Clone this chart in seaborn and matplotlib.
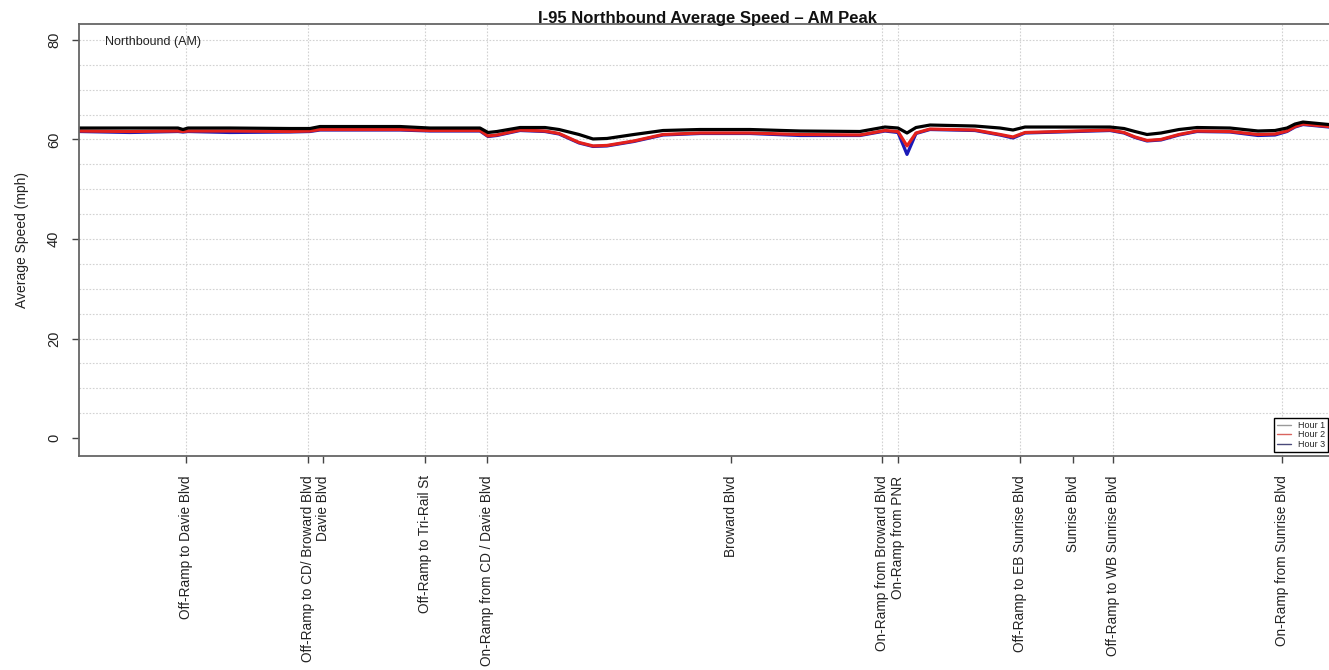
import numpy as np
import pandas as pd
import matplotlib
matplotlib.use("Agg")
import matplotlib.pyplot as plt
import seaborn as sns
from matplotlib.lines import Line2D

# ---------------- data ----------------
distance_mi = [0.00, 0.51, 0.99, 1.04, 1.09, 1.51, 2.11, 2.31, 2.41, 3.21, 3.51, 4.01,
               4.09, 4.18, 4.41, 4.66, 4.80, 5.00, 5.14, 5.28, 5.55, 5.84, 6.21, 6.71,
               7.21, 7.81, 8.06, 8.19, 8.28, 8.37, 8.51, 8.96, 9.21, 9.34, 9.46, 10.31,
               10.45, 10.56, 10.68, 10.82, 11.00, 11.18, 11.51, 11.79, 11.96, 12.08,
               12.16, 12.24, 12.50]

hour1 = [62.3, 62.3, 62.3, 62.0, 62.3, 62.3, 62.2, 62.2, 62.6, 62.6, 62.3, 62.3,
         61.4, 61.6, 62.4, 62.4, 62.0, 61.0, 60.1, 60.2, 61.0, 61.8, 62.0, 62.0,
         61.7, 61.6, 62.5, 62.3, 61.3, 62.4, 62.9, 62.7, 62.3, 61.9, 62.5, 62.5,
         62.2, 61.6, 61.0, 61.3, 62.0, 62.4, 62.3, 61.7, 61.8, 62.3,
         63.1, 63.5, 63.0]

hour2 = [61.7, 61.6, 61.7, 61.6, 61.7, 61.7, 61.6, 61.7, 62.0, 62.0, 61.8, 61.8,
         60.7, 60.9, 61.9, 61.7, 61.2, 59.4, 58.7, 58.8, 59.7, 61.0, 61.3, 61.3,
         61.0, 60.9, 61.8, 61.6, 58.7, 61.3, 62.1, 61.9, 61.0, 60.5, 61.4, 61.9,
         61.4, 60.5, 59.8, 60.0, 61.0, 61.7, 61.6, 61.0, 61.1, 61.7,
         62.6, 63.1, 62.6]

hour3 = [61.6, 61.4, 61.6, 61.5, 61.6, 61.4, 61.5, 61.6, 61.9, 61.9, 61.7, 61.7,
         60.6, 60.8, 61.8, 61.6, 61.1, 59.3, 58.6, 58.7, 59.6, 60.9, 61.2, 61.2,
         60.8, 60.8, 61.7, 61.4, 57.0, 61.2, 62.0, 61.8, 60.9, 60.3, 61.3, 61.8,
         61.3, 60.4, 59.7, 59.9, 60.9, 61.6, 61.5, 60.8, 60.9, 61.6,
         62.5, 63.0, 62.5]

location_pos = [1.07, 2.29, 2.44, 3.46, 4.08, 6.52, 8.03, 8.19, 9.41, 9.94, 10.34, 12.03]
location_labels = ["Off-Ramp to Davie Blvd", "Off-Ramp to CD/ Broward Blvd", "Davie Blvd",
                   "Off-Ramp to Tri-Rail St", "On-Ramp from CD / Davie Blvd", "Broward Blvd",
                   "On-Ramp from Broward Blvd", "On-Ramp from PNR", "Off-Ramp to EB Sunrise Blvd",
                   "Sunrise Blvd", "Off-Ramp to WB Sunrise Blvd", "On-Ramp from Sunrise Blvd"]
is_ramp = [True, True, False, True, True, False, True, True, True, False, True, True]

y_ticks = [0, 20, 40, 60, 80]
series_names = ["Hour 1", "Hour 2", "Hour 3"]

# ---------------- styling ----------------
sns.set_theme(style="white")
plt.rcParams["font.family"] = ["Liberation Sans", "DejaVu Sans"]

plot_colors = {"Hour 1": "#000000", "Hour 2": "#e3211c", "Hour 3": "#1a1ab8"}
legend_colors = {"Hour 1": "#9a9a9a", "Hour 2": "#d9645f", "Hour 3": "#4a4a7a"}

W, H = 1329, 670
fig = plt.figure(figsize=(W / 100, H / 100), dpi=100)
ax = fig.add_axes([79 / W, (H - 456) / H, (1335 - 79) / W, (456 - 24) / H])

df = pd.DataFrame({
    "distance": distance_mi * 3,
    "speed": hour1 + hour2 + hour3,
    "series": ["Hour 1"] * len(hour1) + ["Hour 2"] * len(hour2) + ["Hour 3"] * len(hour3),
})

# draw Hour 3 first, Hour 1 on top
sns.lineplot(data=df, x="distance", y="speed", hue="series",
             hue_order=["Hour 3", "Hour 2", "Hour 1"], palette=plot_colors,
             estimator=None, sort=False, linewidth=2.3, legend=False, ax=ax)

ax.set_xlim(0, 12.56)
ax.set_ylim(-3.6, 83.2)

# grid
for yv in np.arange(5, 81, 5):
    ax.axhline(yv, color="#d2d2d2", linestyle=(0, (1.5, 1.5)), linewidth=0.8, zorder=0)
for xv, ramp in zip(location_pos, is_ramp):
    if ramp:
        ax.axvline(xv, color="#d2d2d2", linestyle=(0, (1.5, 1.5)), linewidth=0.8, zorder=0)

ax.set_yticks(y_ticks)
ax.set_yticklabels([str(v) for v in y_ticks], rotation=90, va="center")
ax.set_xticks(location_pos)
ax.set_xticklabels(location_labels, rotation=90, ha="center", va="top")

ax.tick_params(axis="both", which="major", direction="out", length=5, width=1,
               color="#444444", labelcolor="#222222", bottom=True, left=True)
ax.tick_params(axis="y", labelsize=10.5, pad=8)
ax.tick_params(axis="x", labelsize=9.8, pad=9)

for side in ["top", "left", "bottom", "right"]:
    ax.spines[side].set_color("#666666")
    ax.spines[side].set_linewidth(1.3)

ax.set_xlabel("")
ax.set_ylabel("Average Speed (mph)", fontsize=10, color="#222222")
ax.yaxis.set_label_coords((22 - 79) / (1335 - 79), 0.5)
ax.yaxis.label.set_va("center")

ax.set_title("I-95 Northbound Average Speed \u2013 AM Peak", fontsize=12,
             fontweight="bold", color="#111111", pad=1)

ax.text(26 / (1335 - 79), (456 - 42) / (456 - 24), "Northbound (AM)",
        transform=ax.transAxes, fontsize=9, va="center", ha="left", color="#222222")

handles = [Line2D([0], [0], color=legend_colors[n], linewidth=1.0) for n in series_names]
leg = ax.legend(handles, series_names, loc="lower right",
                bbox_to_anchor=(1328 / W, (H - 452) / H), bbox_transform=fig.transFigure,
                borderaxespad=0, fontsize=6.5, handlelength=1.6, handletextpad=0.7,
                labelspacing=0.05, borderpad=0.35, fancybox=False, framealpha=1)
leg.get_frame().set_edgecolor("#000000")
leg.get_frame().set_linewidth(1.0)

fig.savefig("out.png", dpi=100)
